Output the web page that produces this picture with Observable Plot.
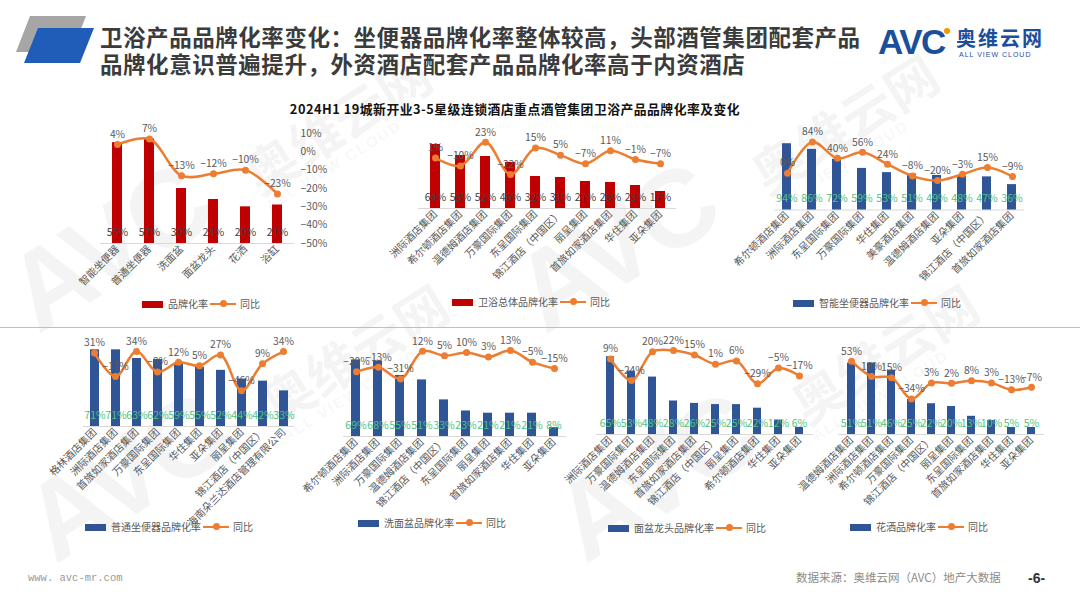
<!DOCTYPE html>
<html><head><meta charset="utf-8">
<script src="https://cdn.jsdelivr.net/npm/d3@7"></script>
<script src="https://cdn.jsdelivr.net/npm/@observablehq/plot@0.6"></script>
<style>
body{margin:0;background:#fff;font-family:"Noto Sans CJK SC","Noto Sans",sans-serif;}
#page{position:relative;width:1080px;height:608px;overflow:hidden;background:#fff;}
.abs{position:absolute;white-space:nowrap;line-height:1;}
.title{left:100px;font-size:22.5px;font-weight:700;color:#3b3b3b;letter-spacing:0.55px;}
.leg{position:absolute;font-size:10px;color:#595959;display:flex;align-items:center;white-space:nowrap;height:12px;line-height:12px;}
.leg .sw{width:21px;height:7px;margin-right:5px;}
.leg .ln{position:relative;width:26px;height:2.5px;background:#ED7D31;margin:0 4px 0 2px;}
.leg .ln::after{content:"";position:absolute;left:9.5px;top:-2.75px;width:7px;height:7px;border-radius:50%;background:#ED7D31;}
</style></head>
<body>
<div id="page">
  <svg class="abs" style="left:0;top:0" width="1080" height="608">
    <g fill="#000" fill-opacity="0.045" font-weight="700">
      <g transform="translate(38,335) rotate(-32)"><text font-family="Liberation Sans" font-size="110" letter-spacing="-4">AVC</text><text x="262" font-family="Noto Sans CJK SC" font-size="52">奥维云网</text><text x="262" y="18" font-family="Liberation Sans" font-size="15" letter-spacing="2">ALL VIEW CLOUD</text></g>
      <g transform="translate(545,335) rotate(-32)"><text font-family="Liberation Sans" font-size="110" letter-spacing="-4">AVC</text><text x="262" font-family="Noto Sans CJK SC" font-size="52">奥维云网</text><text x="262" y="18" font-family="Liberation Sans" font-size="15" letter-spacing="2">ALL VIEW CLOUD</text></g>
      <g transform="translate(55,565) rotate(-32)"><text font-family="Liberation Sans" font-size="110" letter-spacing="-4">AVC</text><text x="262" font-family="Noto Sans CJK SC" font-size="52">奥维云网</text><text x="262" y="18" font-family="Liberation Sans" font-size="15" letter-spacing="2">ALL VIEW CLOUD</text></g>
      <g transform="translate(585,565) rotate(-32)"><text font-family="Liberation Sans" font-size="110" letter-spacing="-4">AVC</text><text x="262" font-family="Noto Sans CJK SC" font-size="52">奥维云网</text><text x="262" y="18" font-family="Liberation Sans" font-size="15" letter-spacing="2">ALL VIEW CLOUD</text></g>
    </g>
  </svg>
  <svg class="abs" style="left:0;top:0" width="110" height="80">
    <polygon points="30,16 86,16 72,52 16,52" fill="#a6a6a6"/>
    <polygon points="38,28 94,28 80,63 24,63" fill="#1f5db8"/>
  </svg>
  <div class="abs title" style="top:25px">卫浴产品品牌化率变化：坐便器品牌化率整体较高，头部酒管集团配套产品</div>
  <div class="abs title" style="top:52px">品牌化意识普遍提升，外资酒店配套产品品牌化率高于内资酒店</div>
  <div class="abs" style="left:878px;top:24px;font-family:'Liberation Sans',sans-serif;font-size:35px;font-weight:700;color:#1b4f9c;letter-spacing:-1.5px;">AVC</div>
  <div class="abs" style="left:944px;top:28px;width:6px;height:6px;border-radius:50%;background:#f39800;"></div>
  <div class="abs" style="left:956px;top:28px;font-size:20px;font-weight:700;color:#1b4f9c;letter-spacing:2px;">奥维云网</div>
  <div class="abs" style="left:959px;top:51px;font-family:'Liberation Sans',sans-serif;font-size:7px;color:#1b4f9c;letter-spacing:1px;">ALL VIEW CLOUD</div>
  <div class="abs" id="subtitle" style="left:515px;top:103px;transform:translateX(-50%);font-size:12.8px;font-weight:700;color:#111;letter-spacing:0.5px;">2024H1 19城新开业3-5星级连锁酒店重点酒管集团卫浴产品品牌化率及变化</div>
  <div class="abs" style="left:0;top:327px;width:1080px;height:1px;background:#bfbfbf;"></div>
  <div class="abs" style="left:28px;top:573px;font-family:'Liberation Mono',monospace;font-size:10.5px;color:#9a9a9a;">www. avc-mr.com</div>
  <div class="abs" style="left:796px;top:572px;font-size:11.5px;color:#8c8c8c;">数据来源：奥维云网（AVC）地产大数据</div>
  <div class="abs" style="left:1028px;top:571px;font-family:'Liberation Sans',sans-serif;font-size:14px;font-weight:700;color:#333;">-6-</div>
</div>
<script>
// ---------- data ----------
const cats1 = ["智能坐便器","普通坐便器","洗面盆","面盆龙头","花洒","浴缸"];
const rate1 = [55,57,30,24,20,21];
const yoy1  = [4,7,-13,-12,-10,-23];

const cats2 = ["洲际酒店集团","希尔顿酒店集团","温德姆酒店集团","万豪国际集团","东呈国际集团","锦江酒店（中国区）","丽呈集团","首旅如家酒店集团","华住集团","亚朵集团"];
const rate2 = [64,53,52,46,32,31,27,26,23,17];
const yoy2  = [1,-10,23,-22,15,5,-7,11,-1,-7];

const cats3 = ["希尔顿酒店集团","洲际酒店集团","东呈国际集团","万豪国际集团","华住集团","美豪酒店集团","温德姆酒店集团","亚朵集团","锦江酒店（中国区）","首旅如家酒店集团"];
const rate3 = [94,86,72,59,53,51,49,48,47,36];
const yoy3  = [0,84,40,56,24,-8,-20,-3,15,-9];

const cats4 = ["格林酒店集团","洲际酒店集团","首旅如家酒店集团","万豪国际集团","东呈国际集团","华住集团","亚朵集团","丽呈集团","锦江酒店（中国区）","海南朵兰达酒店管理有限公司"];
const rate4 = [71,71,63,62,59,55,52,44,42,33];
const yoy4  = [31,-17,34,-8,12,5,27,-46,9,34];

const cats5 = ["希尔顿酒店集团","洲际酒店集团","万豪国际集团","温德姆酒店集团","锦江酒店（中国区）","东呈国际集团","丽呈集团","首旅如家酒店集团","华住集团","亚朵集团"];
const rate5 = [69,68,55,51,33,23,21,21,21,8];
const yoy5  = [-20,-13,-31,12,5,10,3,13,-5,-15];

const cats6 = ["洲际酒店集团","万豪国际集团","温德姆酒店集团","东呈国际集团","首旅如家酒店集团","锦江酒店（中国区）","丽呈集团","希尔顿酒店集团","华住集团","亚朵集团"];
const rate6 = [65,53,48,28,26,25,25,22,12,6];
const yoy6  = [9,-24,20,22,15,1,6,-29,-5,-17];

const cats7 = ["温德姆酒店集团","洲际酒店集团","希尔顿酒店集团","万豪国际集团","锦江酒店（中国区）","丽呈集团","东呈国际集团","首旅如家酒店集团","华住集团","亚朵集团"];
const rate7 = [51,51,46,25,22,20,13,10,5,5];
const yoy7  = [53,18,15,-34,3,2,8,3,-13,-7];

const barNames = ["品牌化率","卫浴总体品牌化率","智能坐便器品牌化率","普通坐便器品牌化率","洗面盆品牌化率","面盆龙头品牌化率","花洒品牌化率"];
const lineName = "同比";
const axisTicks1 = [-50,-40,-30,-20,-10,0,10];

// ---------- layout / style ----------
const RED = "#c00000", BLUE = "#2f5597", ORANGE = "#ED7D31", GREEN = "#52c27e";
const series = [
  [cats1,rate1,yoy1],[cats2,rate2,yoy2],[cats3,rate3,yoy3],[cats4,rate4,yoy4],
  [cats5,rate5,yoy5],[cats6,rate6,yoy6],[cats7,rate7,yoy7]
];
const layout = [
  {x0:100,x1:294,Y0:243,top:133,bmax:60,ldom:[-50,10],pad:0.68,color:RED,lab:"#404040",right:true,leg:[142,298]},
  {x0:418,x1:676,Y0:208,top:138,bmax:70,ldom:[-69.3,28.2],pad:0.61,color:RED,lab:"#404040",leg:[452,296]},
  {x0:774,x1:1024,Y0:209,top:138.5,bmax:100,ldom:[-99.2,90.6],pad:0.63,color:BLUE,lab:GREEN,leg:[793,297]},
  {x0:83,x1:294,Y0:426,top:345,bmax:75,ldom:[-119.5,46.5],pad:0.59,color:BLUE,lab:GREEN,leg:[85,521]},
  {x0:343,x1:566,Y0:436,top:345,bmax:82,ldom:[-120.6,20.9],pad:0.6,color:BLUE,lab:GREEN,leg:[358,517]},
  {x0:596,x1:813,Y0:434,top:345,bmax:74.4,ldom:[-107.1,29.7],pad:0.6,color:BLUE,lab:GREEN,leg:[608,522]},
  {x0:838,x1:1044,Y0:434,top:345,bmax:63.6,ldom:[-116.2,89.3],pad:0.6,color:BLUE,lab:GREEN,leg:[850,521]}
];
const pct = v => (v < 0 ? "−" : "") + Math.abs(v) + "%";
const page = document.getElementById("page");

series.forEach(([cats, rate, yoy], i) => {
  const L = layout[i];
  const rows = cats.map((c, j) => ({cat: c, rate: rate[j], yoy: yoy[j]}));
  const mL = 70, mR = L.right ? 50 : 30, mT = 24, mB = 120;
  const W = L.x1 - L.x0 + mL + mR, H = L.Y0 - L.top + mT + mB;
  const style = {background: "transparent", overflow: "visible", fontFamily: "'Noto Sans CJK SC', sans-serif", fontSize: "10px", color: "#595959"};
  const common = {width: W, height: H, marginLeft: mL, marginRight: mR, marginTop: mT, marginBottom: mB, style};
  const xopt = {domain: cats, paddingInner: L.pad, paddingOuter: L.pad / 2};
  const barPlot = Plot.plot({
    ...common,
    x: {...xopt, axis: null},
    y: {domain: [0, L.bmax], axis: null},
    marks: [
      Plot.ruleY([0], {stroke: "#d9d9d9"}),
      Plot.barY(rows, {x: "cat", y: "rate", fill: L.color}),
      Plot.text(rows, {x: "cat", y: 0, dy: -11, text: d => pct(d.rate), fill: L.lab, fontSize: 10.5}),
      Plot.axisX({tickRotate: -45, tickSize: 0, tickPadding: 4, label: null, fill: "#595959", fontSize: 10.3})
    ]
  });
  const linePlot = Plot.plot({
    ...common,
    x: {...xopt, axis: null},
    y: {domain: L.ldom, axis: null},
    marks: [
      Plot.lineY(rows, {x: "cat", y: "yoy", stroke: ORANGE, strokeWidth: 2.5, curve: "catmull-rom"}),
      Plot.dot(rows, {x: "cat", y: "yoy", r: 3.5, fill: ORANGE}),
      Plot.text(rows, {x: "cat", y: "yoy", dy: -10, text: d => pct(d.yoy), fill: "#595959", fontSize: 10.3}),
      ...(L.right ? [Plot.axisY(axisTicks1, {anchor: "right", tickSize: 0, tickPadding: 6, tickFormat: pct, label: null, fill: "#595959", fontSize: 10.3})] : [])
    ]
  });
  for (const s of [barPlot, linePlot]) {
    s.style.position = "absolute";
    s.style.left = (L.x0 - mL) + "px";
    s.style.top = (L.top - mT) + "px";
    s.style.maxWidth = "none";
    page.appendChild(s);
  }
  const leg = document.createElement("div");
  leg.className = "leg";
  leg.style.left = L.leg[0] + "px";
  leg.style.top = L.leg[1] + "px";
  leg.innerHTML = `<div class="sw" style="background:${L.color}"></div><span>${barNames[i]}</span><div class="ln"></div><span>${lineName}</span>`;
  page.appendChild(leg);
});
</script>
</body></html>
